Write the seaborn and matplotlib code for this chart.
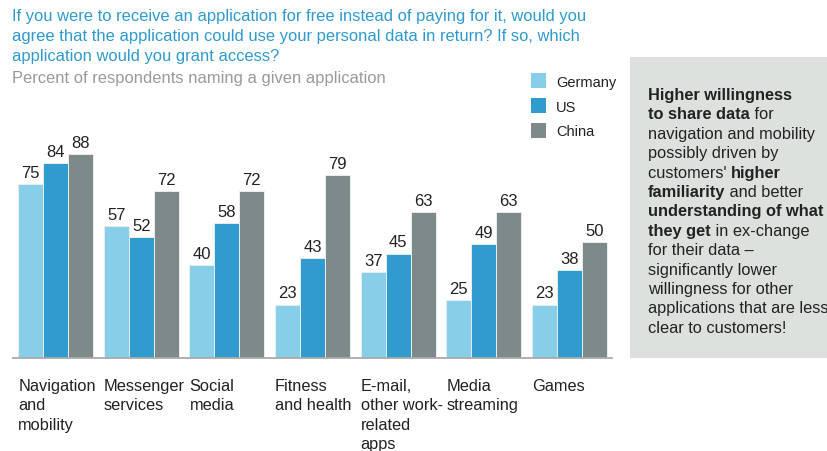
import matplotlib
matplotlib.use("Agg")
import matplotlib.pyplot as plt
from matplotlib.patches import Rectangle
from matplotlib.transforms import blended_transform_factory
import seaborn as sns
import pandas as pd

# ---- data ----
categories = [
    "Navigation\nand\nmobility",
    "Messenger\nservices",
    "Social\nmedia",
    "Fitness\nand health",
    "E-mail,\nother work-\nrelated\napps",
    "Media\nstreaming",
    "Games",
]
countries = ["Germany", "US", "China"]
germany = [75, 57, 40, 23, 37, 25, 23]
us = [84, 52, 58, 43, 45, 49, 38]
china = [88, 72, 72, 79, 63, 63, 50]

title = ("If you were to receive an application for free instead of paying for it, would you\n"
         "agree that the application could use your personal data in return? If so, which\n"
         "application would you grant access?")
subtitle = "Percent of respondents naming a given application"

# callout text: list of lines, each a list of (text, bold) pieces
callout = [
    [("Higher willingness", True)],
    [("to share data", True), (" for", False)],
    [("navigation and mobility", False)],
    [("possibly driven by", False)],
    [("customers' ", False), ("higher", True)],
    [("familiarity", True), (" and better", False)],
    [("understanding of what", True)],
    [("they get", True), (" in ex-change", False)],
    [("for their data \u2013", False)],
    [("significantly lower", False)],
    [("willingness for other", False)],
    [("applications that are less", False)],
    [("clear to customers!", False)],
]

palette = {"Germany": "#87CEE8", "US": "#2F9BCF", "China": "#7E8A89"}
TEXT = "#222222"

sns.set_theme(style="white")
plt.rcParams["font.family"] = ["Liberation Sans", "DejaVu Sans"]

df = pd.DataFrame({
    "category": categories * 3,
    "country": [c for c in countries for _ in categories],
    "value": germany + us + china,
})

W, H = 828, 452
fig = plt.figure(figsize=(W / 100, H / 100), dpi=100)


def fx(px):
    return px / W


def fy(py):
    return 1 - py / H


ax = fig.add_axes([fx(13), fy(359), fx(612) - fx(13), fy(127) - fy(359)])
sns.barplot(data=df, x="category", y="value", hue="country", order=categories,
            hue_order=countries, palette=palette, saturation=1, width=0.875,
            dodge=True, edgecolor="#e9eeee", linewidth=0.7, legend=False, ax=ax)
ax.set_xlim(-0.5, len(categories) - 0.5)
ax.set_ylim(0, 100)
ax.set_xlabel("")
ax.set_ylabel("")
ax.set_xticks([])
ax.set_yticks([])
for s in ["top", "left", "right"]:
    ax.spines[s].set_visible(False)
ax.spines["bottom"].set_color("#aaaaaa")
ax.spines["bottom"].set_linewidth(1.3)

for cont in ax.containers:
    ax.bar_label(cont, fmt="%d", padding=3, fontsize=12, color=TEXT)

# category labels, left-aligned under each group
trans = blended_transform_factory(ax.transData, fig.transFigure)
for i, cat in enumerate(categories):
    ax.text(i - 0.4375, fy(379), cat, transform=trans, ha="left", va="top",
            fontsize=11.8, color=TEXT, linespacing=1.37)

# title and subtitle
fig.text(fx(12), fy(9), title, ha="left", va="top", fontsize=11.9,
         color="#2E9AD0", linespacing=1.43)
fig.text(fx(12), fy(71), subtitle, ha="left", va="top", fontsize=11.9,
         color="#9a9a9a")

# legend
for k, c in enumerate(countries):
    top = 74 + 25 * k
    fig.add_artist(Rectangle((fx(531), fy(top + 15)), fx(15), 15 / H,
                             transform=fig.transFigure, facecolor=palette[c],
                             edgecolor="none"))
    fig.text(fx(556), fy(top + 8.5), c, ha="left", va="center", fontsize=10.5,
             color=TEXT)

# callout box
fig.add_artist(Rectangle((fx(630), fy(359)), fx(828) - fx(630), (359 - 58) / H,
                         transform=fig.transFigure, facecolor="#DCE1DE",
                         edgecolor="none", zorder=0))

fig.canvas.draw()
renderer = fig.canvas.get_renderer()
x0 = 648
y_first = 94
step = 19.4
for li, pieces in enumerate(callout):
    xcur = x0
    yc = y_first + li * step
    for txt, bold in pieces:
        t = fig.text(fx(xcur), fy(yc), txt, ha="left", va="center_baseline",
                     fontsize=11.8, color=TEXT,
                     fontweight="bold" if bold else "normal")
        bb = t.get_window_extent(renderer=renderer)
        xcur += bb.width

fig.savefig("out.png", dpi=100)
